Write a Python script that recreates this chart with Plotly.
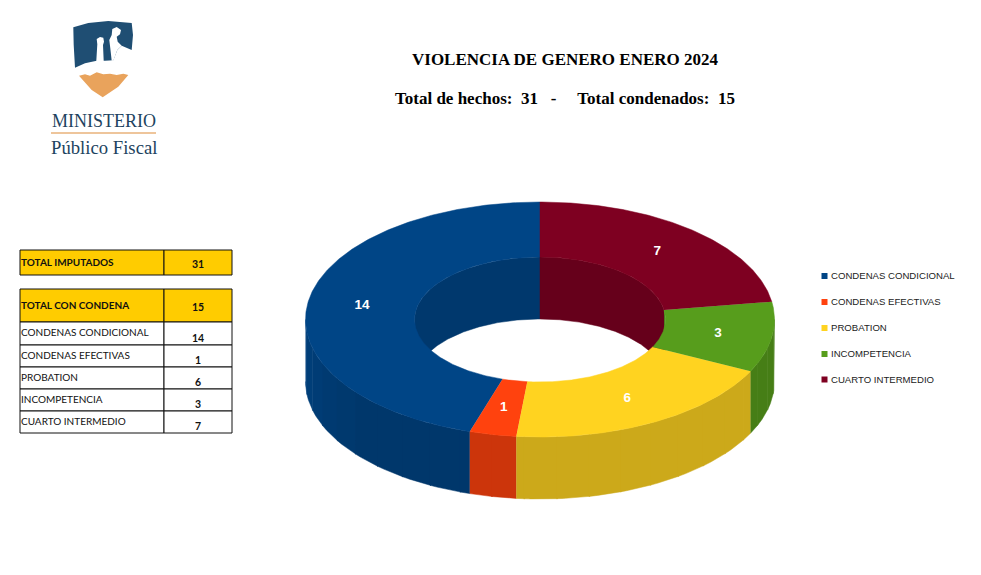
"""Violencia de genero enero 2024: 3D donut, table and logo."""
import numpy as np
import plotly.graph_objects as go

# data
categories = ["CONDENAS CONDICIONAL", "CONDENAS EFECTIVAS", "PROBATION",
              "INCOMPETENCIA", "CUARTO INTERMEDIO"]
values = [14, 1, 6, 3, 7]
total_imputados = 31
total_condena = 15
colors = ["#004586", "#ff420e", "#ffd320", "#579d1c", "#7e0021"]

# donut geometry in pixels
CX, CY = 540, 319.5
RX, RY = 234.5, 117.5
IN_RX, IN_RY = 125.5, 62.5
DEPTH = 62


def shade(color, k):
    """Darken a hex colour."""
    rgb = [int(color[i:i + 2], 16) for i in (1, 3, 5)]
    return "rgb({},{},{})".format(*[round(c * k) for c in rgb])


def arc(t0, t1, rx, ry, dy=0):
    """Points on an ellipse, angle counted anticlockwise from the top."""
    t = np.radians(np.linspace(t0, t1, max(int(abs(t1 - t0)) * 2, 2)))
    return CX - rx * np.sin(t), CY + dy - ry * np.cos(t)


def poly(fig, x, y, color):
    """Add a filled polygon."""
    fig.add_trace(go.Scatter(x=x, y=y, mode="lines", fill="toself", fillcolor=color,
                             line=dict(color=color, width=0.5), hoverinfo="skip",
                             showlegend=False))


def wall(fig, t0, t1, rx, ry, color, k):
    """Side wall between two angles."""
    x0, y0 = arc(t0, t1, rx, ry)
    x1, y1 = arc(t1, t0, rx, ry, DEPTH)
    poly(fig, np.r_[x0, x1], np.r_[y0, y1], shade(color, k))


fig = go.Figure()

edges = np.r_[0, np.cumsum(values)] / sum(values) * 360
slices = list(zip(edges[:-1], edges[1:], colors))

# inner wall, far side of the hole
for t0, t1, color in slices:
    for lo, hi in ((0, 90), (270, 360)):
        a, b = max(t0, lo), min(t1, hi)
        if b > a:
            wall(fig, a, b, IN_RX, IN_RY, color, 0.81)

# outer wall, near side, a bit lighter towards the left edge
for t0, t1, color in slices:
    a, b = max(t0, 90), min(t1, 270)
    if b <= a:
        continue
    steps = np.r_[a, np.arange(np.ceil(a / 8) * 8, b, 8), b]
    for s0, s1 in zip(steps[:-1], steps[1:]):
        k = 0.8 + 0.13 * max(0, 130 - (s0 + s1) / 2) / 40
        wall(fig, s0, s1 + 0.3 if s1 < b else s1, RX, RY, color, k)

# top face
for t0, t1, color in slices:
    xo, yo = arc(t0, t1, RX, RY)
    xi, yi = arc(t1, t0, IN_RX, IN_RY)
    poly(fig, np.r_[xo, xi], np.r_[yo, yi], color)

# slice labels
mid = np.radians((edges[:-1] + edges[1:]) / 2)
fig.add_trace(go.Scatter(
    x=CX - (RX + IN_RX) / 2 * np.sin(mid), y=CY - (RY + IN_RY) / 2 * np.cos(mid),
    mode="text", text=[str(v) for v in values], hoverinfo="skip", showlegend=False,
    textfont=dict(family="Liberation Sans", size=13.5, color="white", weight="bold")))

# legend
legend_y = [276, 302, 328, 354, 379.5]
fig.add_trace(go.Scatter(
    x=[824.5] * 5, y=legend_y, mode="markers", hoverinfo="skip", showlegend=False,
    marker=dict(symbol="square", size=6, color=colors)))
fig.add_trace(go.Scatter(
    x=[831] * 5, y=[y + 1 for y in legend_y], mode="text", text=categories,
    textposition="middle right", hoverinfo="skip", showlegend=False,
    textfont=dict(family="Liberation Sans", size=9.6, color="#222222")))

# table
rows = [("TOTAL IMPUTADOS", total_imputados, 250, 275, True),
        ("TOTAL CON CONDENA", total_condena, 289, 322, True)]
row_tops = [322, 345, 367, 389, 411, 433]
for i, (name, val) in enumerate(zip(categories, values)):
    rows.append((name, val, row_tops[i], row_tops[i + 1], False))

shapes = []
annots = []
for name, val, top, bottom, head in rows:
    for x0, x1 in ((20, 164), (164, 232)):
        shapes.append(dict(type="rect", x0=x0, x1=x1, y0=top, y1=bottom, layer="above",
                           fillcolor="#ffcc00" if head else "white",
                           line=dict(color="#111111", width=1)))
    font = dict(family="Lato", size=10, color="#111111", weight="bold" if head else "normal")
    annots.append(dict(x=19, y=(top + bottom) / 2 - (0.5 if head else 1.5), text=name, xanchor="left",
                       showarrow=False, font=font))
    annots.append(dict(x=198, y=(top + bottom) / 2 + (1 if head else 4), text=str(val),
                       showarrow=False,
                       font=dict(family="Lato", size=10.5, color="#111111", weight="bold")))

# titles
annots.append(dict(x=565, y=59, text="VIOLENCIA DE GENERO ENERO 2024", showarrow=False,
                   font=dict(family="Liberation Serif", size=17, color="black", weight="bold")))
annots.append(dict(x=564.5, y=98, text="Total de hechos:  31   -     Total condenados:  15",
                   showarrow=False,
                   font=dict(family="Liberation Serif", size=17, color="black", weight="bold")))

# logo
annots.append(dict(x=104, y=121, text="MINISTERIO", showarrow=False,
                   font=dict(family="Liberation Serif", size=18, color="#1d4360")))
annots.append(dict(x=103.5, y=147, text="Público Fiscal", showarrow=False,
                   font=dict(family="Liberation Serif", size=18.7, color="#1d4360")))
shapes.append(dict(type="line", x0=51, x1=156, y0=133, y1=133, line=dict(color="#e9b27a", width=1.5)))


def logo_path(points):
    return "M" + "L".join("{:.1f},{:.1f}".format(65 + x / 3, 15 + y / 3) for x, y in points) + "Z"


shield = [(25, 37), (70, 24), (130, 18), (200, 24), (204, 60), (200, 105), (170, 92), (157, 105),
          (145, 136), (120, 137), (95, 137), (60, 145), (30, 158), (26, 90)]
tower_a = [(97, 88), (95, 72), (105, 66), (115, 68), (117, 80), (114, 90), (116, 138), (94, 138)]
tower_b = [(140, 60), (142, 42), (155, 36), (168, 45), (165, 58), (155, 65), (158, 80), (170, 92),
           (157, 105), (145, 137), (140, 137), (136, 100), (133, 75)]
flame = [(42, 182), (60, 178), (75, 182), (95, 172), (115, 178), (135, 176), (155, 180), (175, 176),
         (190, 180), (160, 215), (113, 247), (80, 225)]
for pts, col in ((shield, "#1f4e73"), (tower_a, "white"), (tower_b, "white"), (flame, "#e9a35c")):
    shapes.append(dict(type="path", path=logo_path(pts), fillcolor=col, line=dict(width=0)))

fig.update_layout(
    width=981, height=575, margin=dict(l=0, r=0, t=0, b=0),
    paper_bgcolor="white", plot_bgcolor="white", showlegend=False,
    xaxis=dict(range=[0, 981], visible=False, fixedrange=True),
    yaxis=dict(range=[575, 0], visible=False, fixedrange=True),
    shapes=shapes, annotations=annots)

fig.write_html("out.html", config=dict(displayModeBar=False),
               post_script="document.body.style.margin='0';document.body.style.overflow='hidden';")
